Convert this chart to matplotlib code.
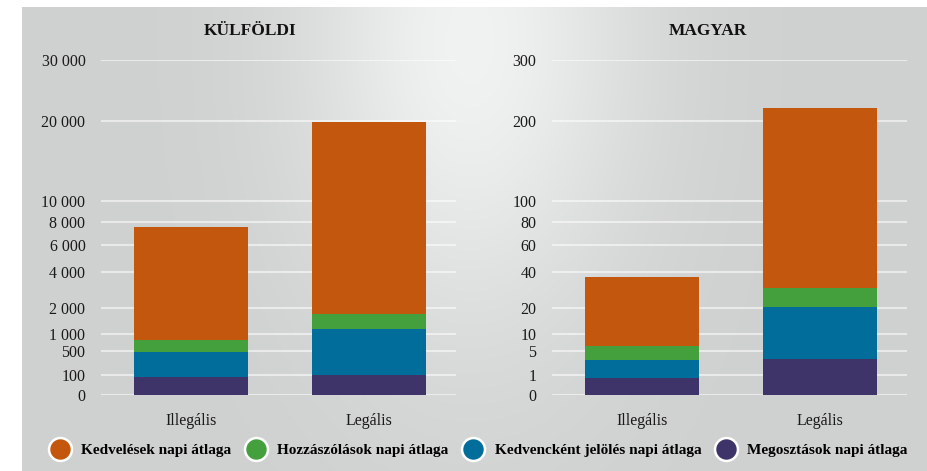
import numpy as np
import matplotlib
matplotlib.use("Agg")
import matplotlib.pyplot as plt
from matplotlib.lines import Line2D

plt.rcParams["font.family"] = ["Liberation Serif", "DejaVu Serif"]

# Adatok
kategoriak = ["Illegális", "Legális"]
sorozatok = ["Megosztások napi átlaga", "Kedvencként jelölés napi átlaga",
             "Hozzászólások napi átlaga", "Kedvelések napi átlaga"]
szinek = ["#3F3469", "#016D9B", "#43A03D", "#C3570D"]

kulfoldi = {
    "Megosztások napi átlaga": [85, 105],
    "Kedvencként jelölés napi átlaga": [407, 1060],
    "Hozzászólások napi átlaga": [315, 590],
    "Kedvelések napi átlaga": [6690, 18160],
}
magyar = {
    "Megosztások napi átlaga": [0.75, 3.45],
    "Kedvencként jelölés napi átlaga": [2.5, 17.3],
    "Hozzászólások napi átlaga": [3.15, 9.9],
    "Kedvelések napi átlaga": [30.4, 189.6],
}

kulfoldi_tickek = [0, 100, 500, 1000, 2000, 4000, 6000, 8000, 10000, 20000, 30000]
magyar_tickek = [0, 1, 5, 10, 20, 40, 60, 80, 100, 200, 300]


def fmt(v):
    return f"{v:,}".replace(",", " ")


fig = plt.figure(figsize=(9.28, 4.71), dpi=100)
fig.patch.set_facecolor("white")

# Háttér gradiens
bg = fig.add_axes([22 / 928, 0, 1 - 22 / 928, 1 - 7 / 471])
bg.set_axis_off()
W, H = 906, 464
xx, yy = np.meshgrid(np.arange(W) + 22, np.arange(H) + 7)
d2 = ((xx - 470) / 165) ** 2 + ((yy - 40) / 290) ** 2
szurke = 0.812 + 0.132 * np.exp(-d2)
img = np.dstack([szurke, szurke + 0.004, szurke + 0.004])
bg.imshow(np.clip(img, 0, 1), aspect="auto", extent=[0, 1, 0, 1])
bg.set_xlim(0, 1)
bg.set_ylim(0, 1)


def panel(rect, adat, tickek, cim, cim_x):
    ax = fig.add_axes(rect)
    ax.patch.set_alpha(0)
    ax.set_yscale("function", functions=(lambda v: np.sqrt(np.maximum(v, 0)), lambda v: np.square(v)))
    x = np.arange(len(kategoriak))
    alap = np.zeros(len(kategoriak))
    for s, c in zip(sorozatok, szinek):
        ertek = np.array(adat[s], dtype=float)
        ax.bar(x, ertek, bottom=alap, width=0.64, color=c, zorder=3, linewidth=0)
        alap = alap + ertek
    ax.set_ylim(0, tickek[-1])
    ax.set_xlim(-0.51, 1.49)
    ax.set_yticks(tickek)
    ax.set_yticklabels([fmt(t) for t in tickek])
    ax.yaxis.set_minor_locator(matplotlib.ticker.NullLocator())
    ax.set_xticks(x)
    ax.set_xticklabels(kategoriak)
    ax.tick_params(axis="y", length=0, pad=11, labelsize=11.5, labelcolor="#1a1a1a")
    ax.tick_params(axis="x", length=0, pad=13, labelsize=11.5, labelcolor="#1a1a1a")
    ax.grid(axis="y", color="white", alpha=0.55, linewidth=1.5, zorder=1)
    for sp in ax.spines.values():
        sp.set_visible(False)
    fig.text(cim_x, 1 - 31 / 471, cim, ha="center", va="center",
             fontsize=12.5, fontweight="bold", color="#111111")
    return ax


panel([100.7 / 928, 1 - 394.7 / 471, 355 / 928, 334.7 / 471], kulfoldi, kulfoldi_tickek,
      "KÜLFÖLDI", 250 / 928)
panel([551.7 / 928, 1 - 394.7 / 471, 355 / 928, 334.7 / 471], magyar, magyar_tickek,
      "MAGYAR", 708 / 928)

# Jelmagyarázat
sorrend = [3, 2, 1, 0]
handles = [Line2D([], [], linestyle="none", marker="o", markersize=16.5,
                  markerfacecolor=szinek[i], markeredgecolor="white", markeredgewidth=1.8)
           for i in sorrend]
labels = ["Kedvelések napi átlaga", "Hozzászólások napi átlaga",
          "Kedvencként jelölés napi átlaga", "Megosztások napi átlaga"]
fig.legend(handles, labels, loc="center", bbox_to_anchor=(478 / 928, 1 - 450 / 471),
           ncol=4, frameon=False, handlelength=1.5, handletextpad=0.65, columnspacing=0.85,
           prop={"size": 11, "weight": "bold"})

fig.savefig("out.png", dpi=100)
